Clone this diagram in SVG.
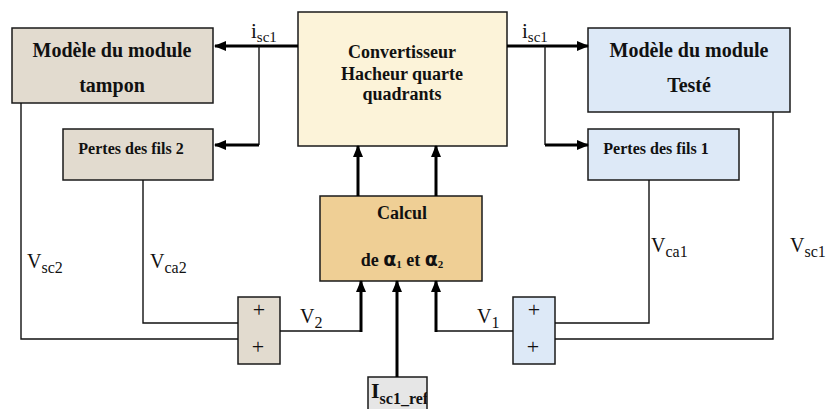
<svg xmlns="http://www.w3.org/2000/svg" width="826" height="409" viewBox="0 0 826 409">
<defs>
<marker id="arr" markerUnits="userSpaceOnUse" markerWidth="12" markerHeight="10" refX="11" refY="5" orient="auto">
<path d="M0,0 L12,5 L0,10 z" fill="#000"/>
</marker>
<clipPath id="refclip"><rect x="368" y="377" width="59" height="40"/></clipPath>
</defs>
<style>
.box{stroke:#1a1a1a;stroke-width:1.5}
.tampon{fill:#e2dbcf}
.teste{fill:#dde9f7}
.conv{fill:#fcf3d9}
.calc{fill:#efcf95}
.ref{fill:#e6e6e6}
.bt{font-family:"Liberation Serif","Times New Roman",serif;font-weight:bold;fill:#111;text-anchor:middle}
.lab{font-family:"Liberation Serif","Times New Roman",serif;fill:#111}
.thin{fill:none;stroke:#111;stroke-width:1.4}
.thick{fill:none;stroke:#000;stroke-width:3}
</style>
<g id="tampon">
<rect class="box tampon" x="12" y="28" width="201" height="75"/>
<text class="bt" x="112" y="57" font-size="20">Modèle du module</text>
<text class="bt" x="112" y="92" font-size="20">tampon</text>
</g>
<g id="convertisseur">
<rect class="box conv" x="298" y="12" width="209" height="134"/>
<text class="bt" x="402" y="58" font-size="18">Convertisseur</text>
<text class="bt" x="402" y="80" font-size="18">Hacheur quarte</text>
<text class="bt" x="402" y="100" font-size="18">quadrants</text>
</g>
<g id="teste">
<rect class="box teste" x="588" y="28" width="202" height="84"/>
<text class="bt" x="689" y="57" font-size="20">Modèle du module</text>
<text class="bt" x="689" y="92" font-size="20">Testé</text>
</g>
<g id="pertes2">
<rect class="box tampon" x="63" y="129" width="150" height="51"/>
<text class="bt" x="131" y="154" font-size="16">Pertes des fils 2</text>
</g>
<g id="pertes1">
<rect class="box teste" x="588" y="129" width="151" height="51"/>
<text class="bt" x="656" y="154" font-size="16">Pertes des fils 1</text>
</g>
<g id="calcul">
<rect class="box calc" x="320" y="196" width="162" height="85"/>
<text class="bt" x="402" y="219" font-size="18">Calcul</text>
<text class="bt" x="402" y="266" font-size="18">de <tspan font-family="'DejaVu Sans',sans-serif" font-size="19">α</tspan><tspan font-size="11" dy="2">1</tspan><tspan dy="-2"> et </tspan><tspan font-family="'DejaVu Sans',sans-serif" font-size="19">α</tspan><tspan font-size="11" dy="2">2</tspan></text>
</g>
<g id="sum2">
<rect class="box tampon" x="238" y="297" width="42" height="67"/>
<text class="lab" x="259" y="317" font-size="22" text-anchor="middle">+</text>
<text class="lab" x="258" y="354" font-size="22" text-anchor="middle">+</text>
</g>
<g id="sum1">
<rect class="box teste" x="513" y="297" width="42" height="67"/>
<text class="lab" x="534" y="317" font-size="22" text-anchor="middle">+</text>
<text class="lab" x="533" y="354" font-size="22" text-anchor="middle">+</text>
</g>
<g id="isc1ref">
<rect class="box ref" x="368" y="377" width="59" height="40"/>
<text class="lab" x="371" y="398" font-size="22" font-weight="bold" clip-path="url(#refclip)">I<tspan font-size="16" dy="6">sc1_ref</tspan></text>
</g>
<g id="connectors">
<line class="thick" x1="298" y1="46" x2="215" y2="46" marker-end="url(#arr)"/>
<polyline class="thin" points="259,46 259,145"/>
<line class="thick" x1="259" y1="145" x2="215" y2="145" marker-end="url(#arr)"/>
<line class="thick" x1="507" y1="46" x2="588" y2="46" marker-end="url(#arr)"/>
<polyline class="thin" points="545,46 545,145"/>
<line class="thick" x1="545" y1="145" x2="588" y2="145" marker-end="url(#arr)"/>
<line class="thick" x1="358" y1="196" x2="358" y2="146" marker-end="url(#arr)"/>
<line class="thick" x1="436" y1="196" x2="436" y2="146" marker-end="url(#arr)"/>
<polyline class="thin" points="280,331 361,331"/>
<line class="thick" x1="361" y1="332" x2="361" y2="281" marker-end="url(#arr)"/>
<polyline class="thin" points="513,331 436,331"/>
<line class="thick" x1="436" y1="332" x2="436" y2="281" marker-end="url(#arr)"/>
<line class="thick" x1="397" y1="377" x2="397" y2="281" marker-end="url(#arr)"/>
<polyline class="thin" points="21,103 21,339 238,339"/>
<polyline class="thin" points="143,180 143,323 238,323"/>
<polyline class="thin" points="649,180 649,323 555,323"/>
<polyline class="thin" points="773,112 773,339 555,339"/>
</g>
<g id="labels">
<text class="lab" x="251" y="38" font-size="21">i<tspan font-size="15" dy="4">sc1</tspan></text>
<text class="lab" x="522" y="38" font-size="21">i<tspan font-size="15" dy="4">sc1</tspan></text>
<text class="lab" x="27" y="268" font-size="20">V<tspan font-size="16" dy="5">sc2</tspan></text>
<text class="lab" x="150" y="268" font-size="20">V<tspan font-size="16" dy="5">ca2</tspan></text>
<text class="lab" x="651" y="252" font-size="20">V<tspan font-size="16" dy="5">ca1</tspan></text>
<text class="lab" x="790" y="252" font-size="20">V<tspan font-size="16" dy="5">sc1</tspan></text>
<text class="lab" x="300" y="323" font-size="20">V<tspan font-size="16" dy="5">2</tspan></text>
<text class="lab" x="477" y="323" font-size="20">V<tspan font-size="16" dy="5">1</tspan></text>
</g>
</svg>
